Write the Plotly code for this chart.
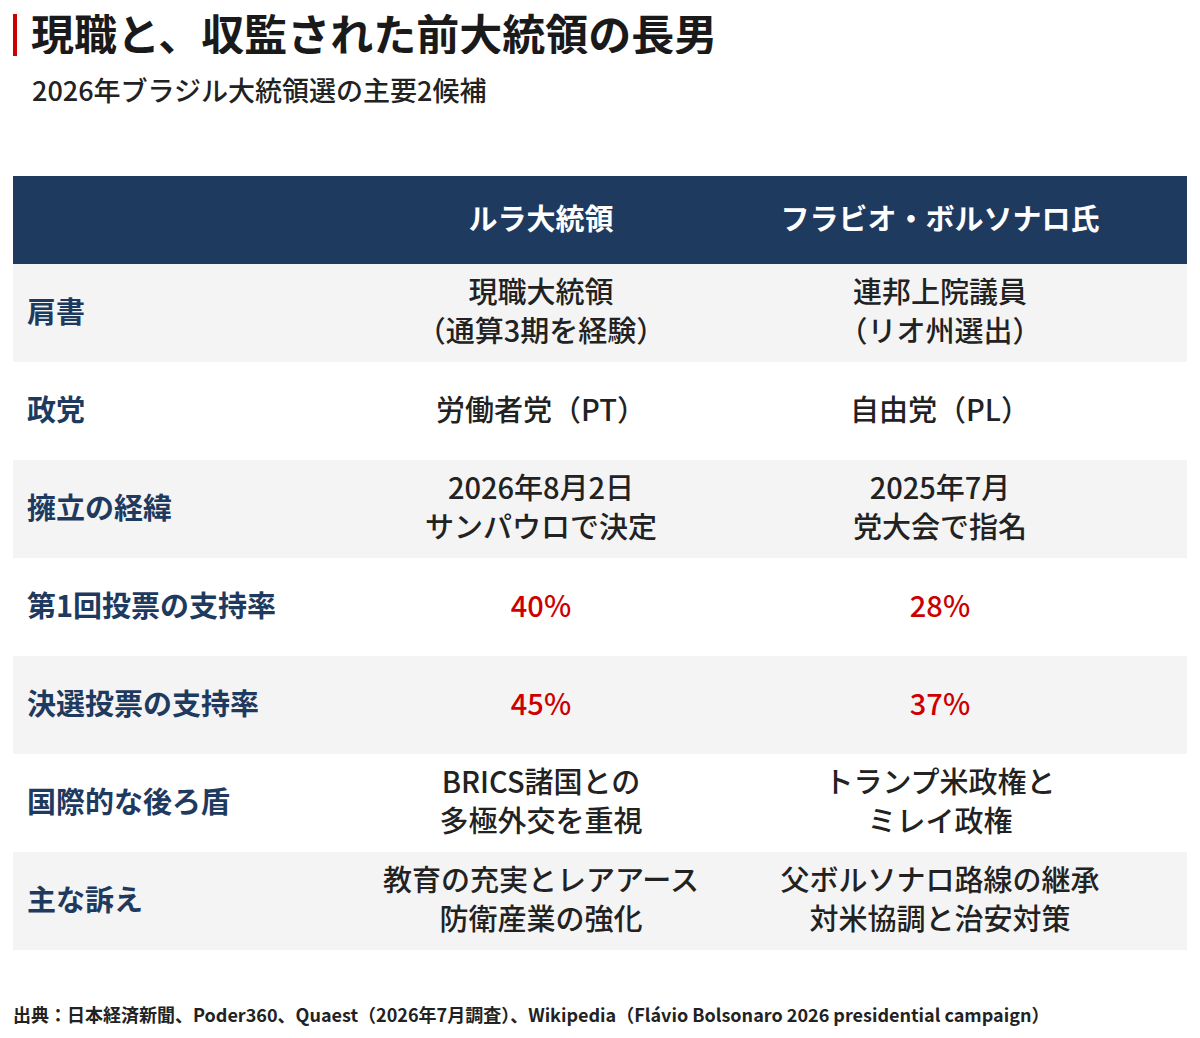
import plotly.graph_objects as go

# --- data ---
CANDIDATES = ["ルラ大統領", "フラビオ・ボルソナロ氏"]
ROW_LABELS = ["肩書", "政党", "擁立の経緯", "第1回投票の支持率",
              "決選投票の支持率", "国際的な後ろ盾", "主な訴え"]
LULA = ["現職大統領<br>（通算3期を経験）", "労働者党（PT）",
        "2026年8月2日<br>サンパウロで決定", "40%", "45%",
        "BRICS諸国との<br>多極外交を重視", "教育の充実とレアアース<br>防衛産業の強化"]
FLAVIO = ["連邦上院議員<br>（リオ州選出）", "自由党（PL）",
          "2025年7月<br>党大会で指名", "28%", "37%",
          "トランプ米政権と<br>ミレイ政権", "父ボルソナロ路線の継承<br>対米協調と治安対策"]
HIGHLIGHT = [False, False, False, True, True, False, False]

TITLE = "現職と、収監された前大統領の長男"
SUBTITLE = "2026年ブラジル大統領選の主要2候補"
SOURCE = ("出典：日本経済新聞、Poder360、Quaest（2026年7月調査）、"
          "Wikipedia（Flávio Bolsonaro 2026 presidential campaign）")

# --- layout constants ---
# the page body has an 8px margin, so the figure is drawn 8px smaller
OFF = 8
W, H = 1200 - OFF, 1038 - OFF
ML, MR, MT, MB = 13 - OFF, 13, 176 - OFF, 88
ROW_PX = 98
HEAD_PX = 88
LINE_PX = 39
TEXT_DY = 2.5 / ROW_PX  # nudge text down a touch
NAVY = "#1f3a5f"
RED = "#cc0000"
GREY = "#f4f4f4"
FONT = "Noto Sans CJK JP"
X_LABEL, X_COL1, X_COL2 = 14, 528, 927

n = len(ROW_LABELS)
head_rows = HEAD_PX / ROW_PX
head_y = -0.5 - head_rows / 2
plot_h = H - MT - MB


def py(px):
    # reference pixel from top -> paper y
    return 1 - (px - OFF - MT) / plot_h


def px_x(px):
    return (px - OFF - ML) / (W - ML - MR)


def cell_points(vals):
    # split multi-line cells so each line sits on its own point
    ys, texts, cols = [], [], []
    for i, v in enumerate(vals):
        lines = v.split("<br>")
        k = len(lines)
        for j, line in enumerate(lines):
            ys.append(i + TEXT_DY + (j - (k - 1) / 2) * LINE_PX / ROW_PX)
            texts.append(line)
            cols.append(RED if HIGHLIGHT[i] else "#222222")
    return ys, texts, cols


rows = list(range(n))

fig = go.Figure()

shapes = [dict(type="rect", xref="paper", yref="y", x0=0, x1=1,
               y0=-0.5 - head_rows, y1=-0.5, fillcolor=NAVY, line_width=0, layer="below")]
for i in rows:
    if i % 2 == 0:
        shapes.append(dict(type="rect", xref="paper", yref="y", x0=0, x1=1,
                           y0=i - 0.5, y1=i + 0.5, fillcolor=GREY, line_width=0, layer="below"))
# red accent bar next to title
shapes.append(dict(type="rect", xref="paper", yref="paper",
                   x0=px_x(13), x1=px_x(17), y0=py(56), y1=py(14),
                   fillcolor=RED, line_width=0))

fig.add_trace(go.Scatter(
    x=[X_LABEL] * n, y=[r + TEXT_DY for r in rows], text=ROW_LABELS, mode="text",
    textposition="middle right",
    textfont=dict(family=FONT, size=29, color=NAVY, weight=700),
    hoverinfo="skip"))

for xc, vals in [(X_COL1, LULA), (X_COL2, FLAVIO)]:
    ys, texts, cols = cell_points(vals)
    fig.add_trace(go.Scatter(
        x=[xc] * len(ys), y=ys, text=texts, mode="text",
        textposition="middle center",
        textfont=dict(family=FONT, size=29, color=cols, weight=500),
        hoverinfo="skip"))

fig.add_trace(go.Scatter(
    x=[X_COL1, X_COL2], y=[head_y + TEXT_DY] * 2, text=CANDIDATES, mode="text",
    textposition="middle center",
    textfont=dict(family=FONT, size=29, color="white", weight=700),
    hoverinfo="skip"))

annotations = [
    dict(text=TITLE, xref="paper", yref="paper", x=px_x(30), y=py(32),
         xanchor="left", yanchor="middle", showarrow=False,
         height=44, valign="middle", borderpad=0,
         font=dict(family=FONT, size=43, color="#1a1a1a", weight=700)),
    dict(text=SUBTITLE, xref="paper", yref="paper", x=px_x(30), y=py(90),
         xanchor="left", yanchor="middle", showarrow=False,
         font=dict(family=FONT, size=27, color="#222222", weight=500)),
    dict(text=SOURCE, xref="paper", yref="paper", x=px_x(11), y=py(1014),
         xanchor="left", yanchor="middle", showarrow=False,
         font=dict(family=FONT, size=18, color="#222222", weight=700)),
]

fig.update_layout(
    width=W, height=H,
    margin=dict(l=ML, r=MR, t=MT, b=MB),
    paper_bgcolor="white", plot_bgcolor="white",
    showlegend=False,
    shapes=shapes, annotations=annotations,
    xaxis=dict(range=[0, W - ML - MR], visible=False, fixedrange=True),
    yaxis=dict(range=[n - 0.5, -0.5 - head_rows], visible=False, fixedrange=True),
)

fig.write_html("out.html")
